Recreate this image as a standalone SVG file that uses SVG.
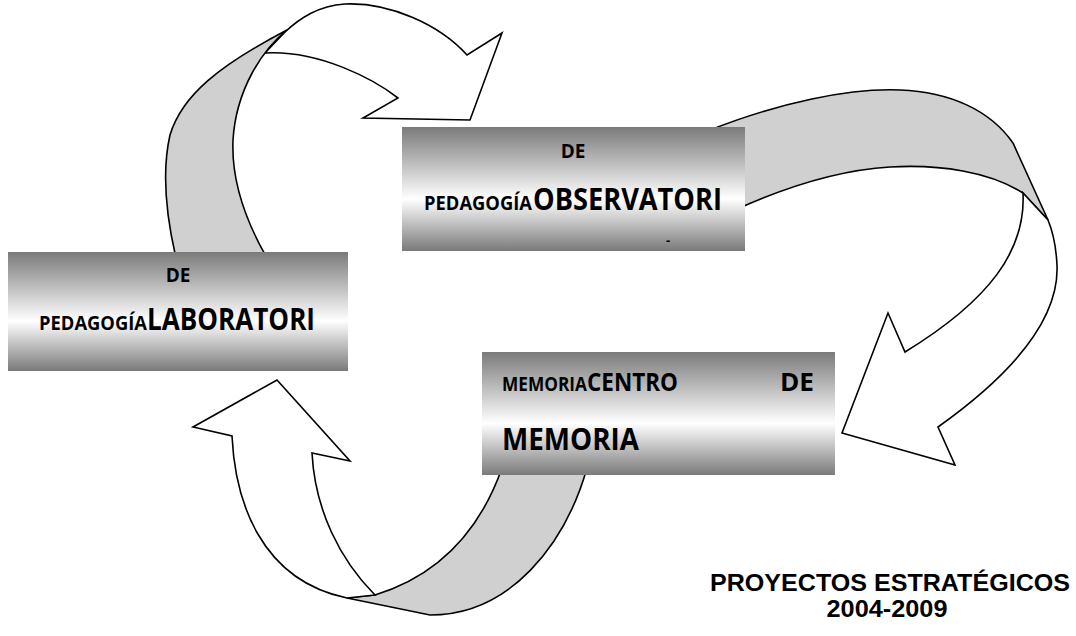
<svg xmlns="http://www.w3.org/2000/svg" width="1076" height="636" viewBox="0 0 1076 636">
<defs>
<linearGradient id="boxg" x1="0" y1="0" x2="0" y2="1">
<stop offset="0" stop-color="#7a7a7a"/>
<stop offset="0.58" stop-color="#ffffff"/>
<stop offset="1" stop-color="#7a7a7a"/>
</linearGradient>
<style>
.w{fill:#ffffff;stroke:#000;stroke-width:1.6;stroke-linejoin:miter}
.g{fill:#d0d0d0;stroke:#000;stroke-width:1.6;stroke-linejoin:miter}
.box{fill:url(#boxg);stroke:none}
text{font-family:"Open Sans","Liberation Sans",Arial,sans-serif;font-weight:bold;fill:#000}
.s{font-size:19px}
.l{font-size:30.5px}
.m{font-size:25.5px}
.t{font-family:"Liberation Sans",Arial,sans-serif;font-size:24px;text-anchor:middle}
</style>
</defs>
<rect width="1076" height="636" fill="#ffffff"/>
<g id="connectors">
<g id="arrow-lab-obs">
<path class="w" d="M285,32 C300,18 318,6 345,4 C390,2 440,25 467,55 L502,33 L470,120 L363,118 L398,98 C375,80 320,50 265,53 Z"/>
<path class="g" d="M176,258 C166,215 162,170 170,135 C182,95 220,65 287,30 C262,50 236,90 233,140 C231,185 248,225 267,258 Z"/>
</g>
<g id="arrow-obs-mem">
<path class="g" d="M705,132 C780,102 850,88 900,90 C950,92 990,110 1013,143 L1048,220 L1023,193 C990,172 940,164 890,167 C840,170 790,185 735,210 Z"/>
<path class="w" d="M1023,193 C1026,250 990,300 905,352 L888,313 L842,433 L955,465 L938,427 C990,390 1060,330 1057,265 C1056,245 1053,232 1048,220 Z"/>
</g>
<g id="arrow-mem-lab">
<path class="g" d="M502,468 C480,530 440,575 375,595 L347,598 L430,615 C510,615 565,545 587,468 Z"/>
<path class="w" d="M375,595 C340,560 315,510 312,453 L350,461 L277,380 L193,427 L232,436 C235,500 260,580 347,598 Z"/>
</g>
</g>
<g id="node-observatorio">
<rect class="box" x="402" y="127" width="343" height="124"/>
<text class="s" x="573" y="158" text-anchor="middle">DE</text>
<text class="s" x="424" y="210" textLength="108" lengthAdjust="spacingAndGlyphs">PEDAGOGÍA</text>
<text class="l" x="533" y="210" textLength="189" lengthAdjust="spacingAndGlyphs">OBSERVATORI</text>
<text x="666" y="245" style="font-size:13px">-</text>
</g>
<g id="node-laboratorio">
<rect class="box" x="8" y="252" width="340" height="119"/>
<text class="s" x="178" y="282" text-anchor="middle">DE</text>
<text class="s" x="39" y="330" textLength="108" lengthAdjust="spacingAndGlyphs">PEDAGOGÍA</text>
<text class="l" x="147" y="330" textLength="168" lengthAdjust="spacingAndGlyphs">LABORATORI</text>
</g>
<g id="node-memoria">
<rect class="box" x="482" y="352" width="353" height="123"/>
<text class="s" x="502" y="391" textLength="85" lengthAdjust="spacingAndGlyphs">MEMORIA</text>
<text class="m" x="587" y="391" textLength="91" lengthAdjust="spacingAndGlyphs">CENTRO</text>
<text class="m" x="780" y="391" textLength="34" lengthAdjust="spacingAndGlyphs">DE</text>
<text class="l" x="502" y="450" textLength="137" lengthAdjust="spacingAndGlyphs">MEMORIA</text>
</g>
<g id="title">
<text class="t" x="890" y="591" textLength="360" lengthAdjust="spacingAndGlyphs">PROYECTOS ESTRATÉGICOS</text>
<text class="t" x="887" y="617" textLength="121" lengthAdjust="spacingAndGlyphs">2004-2009</text>
</g>
</svg>
